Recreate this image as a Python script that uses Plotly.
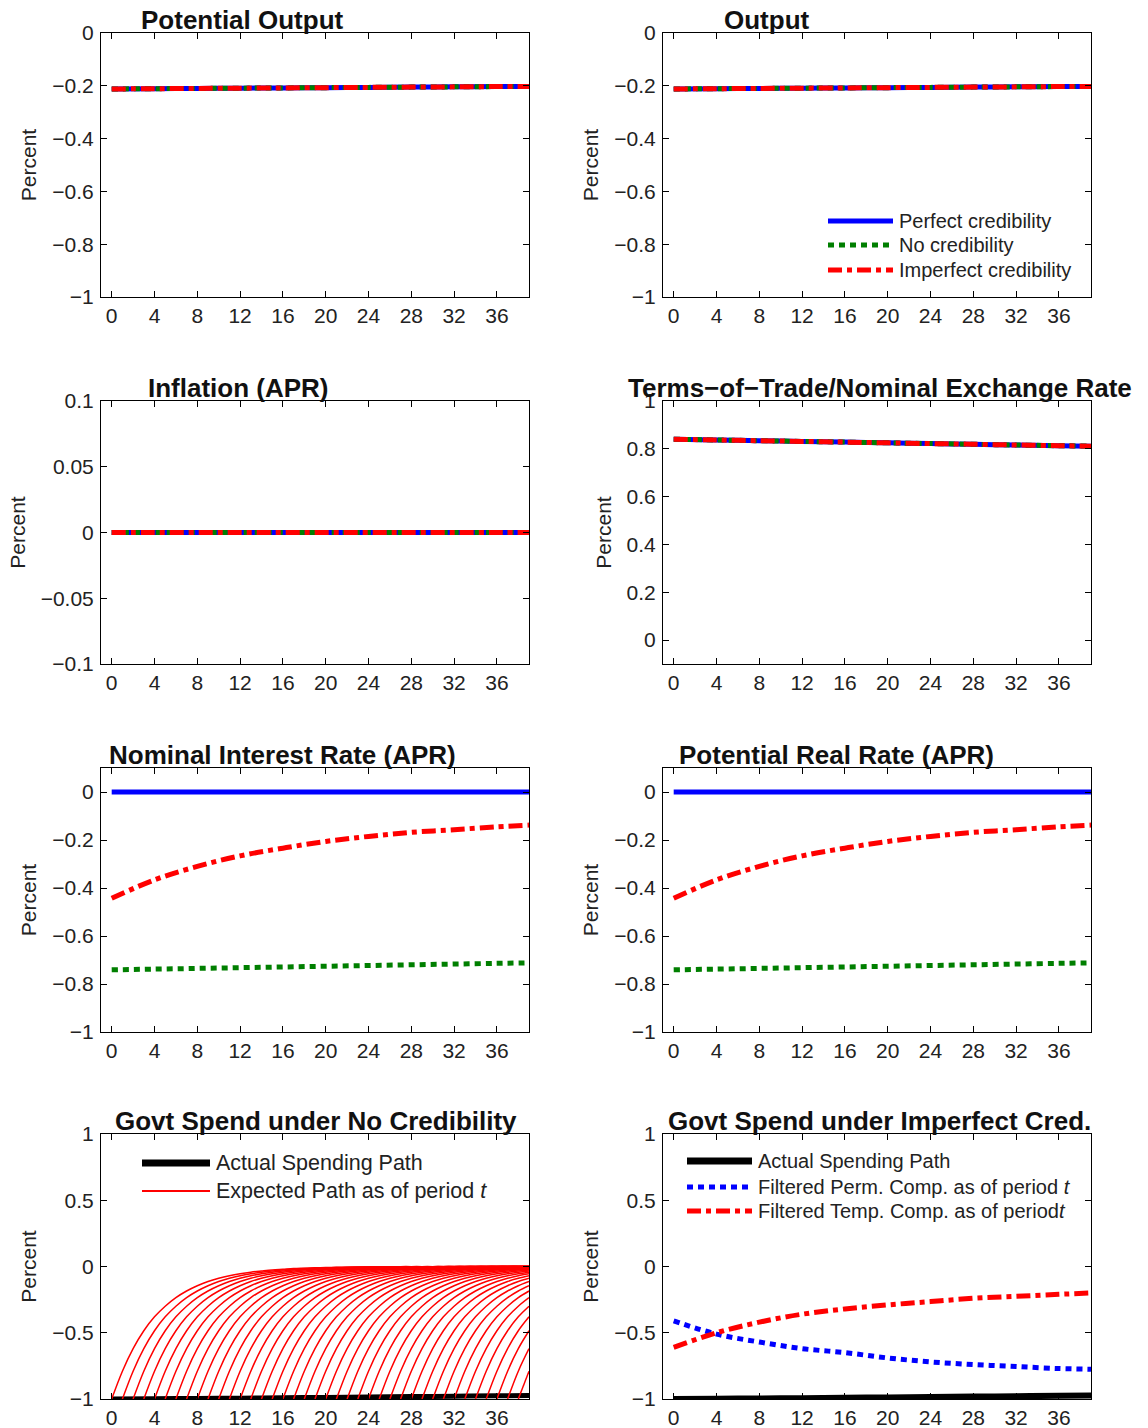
import plotly.graph_objects as go

W, H = 1148, 1428

# ---------------- data ----------------
t_grid = [0, 4, 8, 12, 16, 20, 24, 28, 32, 36, 39]
x_tickvals = [0, 4, 8, 12, 16, 20, 24, 28, 32, 36]
x_ticktext = ["0", "4", "8", "12", "16", "20", "24", "28", "32", "36"]

# Row 1
pot_output = [-0.212, -0.211, -0.210, -0.209, -0.208, -0.207, -0.206, -0.205, -0.204, -0.203, -0.203]
output = [-0.212, -0.211, -0.210, -0.209, -0.208, -0.207, -0.206, -0.205, -0.204, -0.203, -0.203]
# Row 2
inflation = [0, 0, 0, 0, 0, 0, 0, 0, 0, 0, 0]
tot = [0.840, 0.837, 0.834, 0.831, 0.828, 0.825, 0.822, 0.819, 0.816, 0.813, 0.811]
# Row 3
rate_perfect = [0, 0, 0, 0, 0, 0, 0, 0, 0, 0, 0]
rate_none = [-0.741, -0.738, -0.735, -0.732, -0.729, -0.726, -0.723, -0.720, -0.717, -0.714, -0.712]
rate_imperfect = [-0.443, -0.366, -0.310, -0.266, -0.234, -0.206, -0.185, -0.168, -0.157, -0.145, -0.138]
# Row 4
gov_actual = [-1.0, -0.998, -0.996, -0.994, -0.991, -0.988, -0.985, -0.982, -0.979, -0.976, -0.974]
gov_perm = [-0.41, -0.51, -0.57, -0.62, -0.65, -0.69, -0.72, -0.74, -0.755, -0.77, -0.775]
gov_temp = [-0.61, -0.50, -0.42, -0.36, -0.32, -0.29, -0.265, -0.24, -0.225, -0.21, -0.20]
# expected path profile (horizon 0..39) for the no-credibility panel
expected_profile = [-1.0, -0.79, -0.62, -0.485, -0.38, -0.30, -0.235, -0.185, -0.145, -0.113,
                    -0.089, -0.070, -0.055, -0.043, -0.034, -0.026, -0.021, -0.016, -0.013, -0.010,
                    -0.008, -0.006, -0.005, -0.004, -0.003, -0.002, -0.002, -0.001, -0.001, -0.001,
                    -0.001, 0.0, 0.0, 0.0, 0.0, 0.0, 0.0, 0.0, 0.0, 0.0]
n_periods = 40

titles = ["Potential Output", "Output", "Inflation (APR)", "Terms\u2212of\u2212Trade/Nominal Exchange Rate",
          "Nominal Interest Rate (APR)", "Potential Real Rate (APR)",
          "Govt Spend under No Credibility", "Govt Spend under Imperfect Cred."]

y_ticks = {
    1: ([-1, -0.8, -0.6, -0.4, -0.2, 0], ["\u22121", "\u22120.8", "\u22120.6", "\u22120.4", "\u22120.2", "0"]),
    2: ([-0.1, -0.05, 0, 0.05, 0.1], ["\u22120.1", "\u22120.05", "0", "0.05", "0.1"]),
    3: ([0, 0.2, 0.4, 0.6, 0.8, 1], ["0", "0.2", "0.4", "0.6", "0.8", "1"]),
    4: ([-1, -0.8, -0.6, -0.4, -0.2, 0], ["\u22121", "\u22120.8", "\u22120.6", "\u22120.4", "\u22120.2", "0"]),
    5: ([-1, -0.5, 0, 0.5, 1], ["\u22121", "\u22120.5", "0", "0.5", "1"]),
}

# ---------------- styles ----------------
BLUE, GREEN, RED, BLACK = "#0000FF", "#007F00", "#FF0000", "#000000"
FONT = "Liberation Sans, Arial, sans-serif"
sty_perfect = dict(color=BLUE, width=5)
sty_none = dict(color=GREEN, width=5, dash="6px,5px")
sty_imperf = dict(color=RED, width=5, dash="14px,5px,5px,5px")

fig = go.Figure()

def add(axn, x, y, line, shape="linear"):
    fig.add_trace(go.Scatter(x=x, y=y, mode="lines", line=dict(**line, shape=shape),
                             xaxis="x" if axn == 1 else f"x{axn}",
                             yaxis="y" if axn == 1 else f"y{axn}",
                             showlegend=False, hoverinfo="skip"))

# panels 1-6 : three credibility cases
panels = {
    1: (pot_output, pot_output, pot_output),
    2: (output, output, output),
    3: (inflation, inflation, inflation),
    4: (tot, tot, tot),
    5: (rate_perfect, rate_none, rate_imperfect),
    6: (rate_perfect, rate_none, rate_imperfect),
}
for axn, (p, n, i) in panels.items():
    add(axn, t_grid, p, sty_perfect, "spline")
    add(axn, t_grid, n, sty_none, "spline")
    add(axn, t_grid, i, sty_imperf, "spline")

# panel 7: no credibility govt spending
add(7, t_grid, gov_actual, dict(color=BLACK, width=5), "spline")
for t in range(n_periods):
    xs = list(range(t, n_periods))
    ys = expected_profile[:n_periods - t]
    add(7, xs, ys, dict(color=RED, width=1.5), "spline")

# panel 8: imperfect credibility govt spending
add(8, t_grid, gov_actual, dict(color=BLACK, width=6), "spline")
add(8, t_grid, gov_perm, dict(color=BLUE, width=5, dash="6px,5px"), "spline")
add(8, t_grid, gov_temp, dict(color=RED, width=5, dash="14px,5px,5px,5px"), "spline")

# ---------------- layout ----------------
col_x = [(101, 529), (663, 1091)]
row_y = [(33, 297), (401, 664), (768, 1032), (1134, 1399)]
y_ranges = [[(-1, 0), (-1, 0)], [(-0.1, 0.1), (-0.1, 1)], [(-1, 0.1), (-1, 0.1)], [(-1, 1), (-1, 1)]]
y_tick_keys = [[1, 1], [2, 3], [4, 4], [5, 5]]

axis_common = dict(showline=True, linecolor="black", linewidth=1, mirror="ticks",
                   ticks="inside", ticklen=6, tickwidth=1, tickcolor="black",
                   showgrid=False, zeroline=False, automargin=False,
                   tickfont=dict(family=FONT, size=21, color="#222"))

layout = dict(width=W, height=H, margin=dict(l=0, r=0, t=0, b=0, pad=0, autoexpand=False),
              plot_bgcolor="white", paper_bgcolor="white", showlegend=False)
axn = 0
for r in range(4):
    for c in range(2):
        axn += 1
        x0, x1 = col_x[c]
        yt, yb = row_y[r]
        tv, tt = y_ticks[y_tick_keys[r][c]]
        sfx = "" if axn == 1 else str(axn)
        layout["xaxis" + sfx] = dict(axis_common, domain=[x0 / W, x1 / W], range=[-1, 39],
                                     tickvals=x_tickvals, ticktext=x_ticktext,
                                     anchor="y" + sfx)
        layout["yaxis" + sfx] = dict(axis_common, domain=[1 - yb / H, 1 - yt / H],
                                     range=list(y_ranges[r][c]), tickvals=tv, ticktext=tt,
                                     anchor="x" + sfx, ticklabelstandoff=2,
                                     title=dict(text="Percent", font=dict(family=FONT, size=21, color="#222"),
                                                standoff=9))
fig.update_layout(**layout)

# titles
title_pos = [(242, 20), (767, 20), (238, 388), (880, 388), (282, 755), (837, 755), (316, 1121), (879, 1121)]
for txt, (cx, cy) in zip(titles, title_pos):
    fig.add_annotation(x=cx / W, y=1 - cy / H, xref="paper", yref="paper", text="<b>" + txt + "</b>",
                       showarrow=False, xanchor="center", yanchor="middle",
                       font=dict(family=FONT, size=26, color="#111"))

# legends (drawn manually)
def legend_item(x0, x1, y, line, text, tx, size=20):
    fig.add_shape(type="line", xref="paper", yref="paper", x0=x0 / W, x1=x1 / W,
                  y0=1 - y / H, y1=1 - y / H, line=line)
    fig.add_annotation(x=tx / W, y=1 - y / H, xref="paper", yref="paper", text=text, showarrow=False,
                       xanchor="left", yanchor="middle", font=dict(family=FONT, size=size, color="#222"))

legend1 = [("Perfect credibility", sty_perfect), ("No credibility", sty_none),
           ("Imperfect credibility", sty_imperf)]
for (txt, st), y in zip(legend1, [221, 245, 270]):
    legend_item(828, 893, y, st, txt, 897)

legend7 = [("Actual Spending Path", dict(color=BLACK, width=7)),
           ("Expected Path as of period <i>t</i>", dict(color=RED, width=2))]
for (txt, st), y in zip(legend7, [1163, 1191]):
    legend_item(142, 210, y, st, txt, 214, 21.5)

legend8 = [("Actual Spending Path", dict(color=BLACK, width=7)),
           ("Filtered Perm. Comp. as of period <i>t</i>", dict(color=BLUE, width=5, dash="6px,5px")),
           ("Filtered Temp. Comp. as of period<i>t</i>", dict(color=RED, width=5, dash="14px,5px,5px,5px"))]
for (txt, st), y in zip(legend8, [1161, 1187, 1211]):
    legend_item(687, 752, y, st, txt, 756)

fig.write_html("out.html")
